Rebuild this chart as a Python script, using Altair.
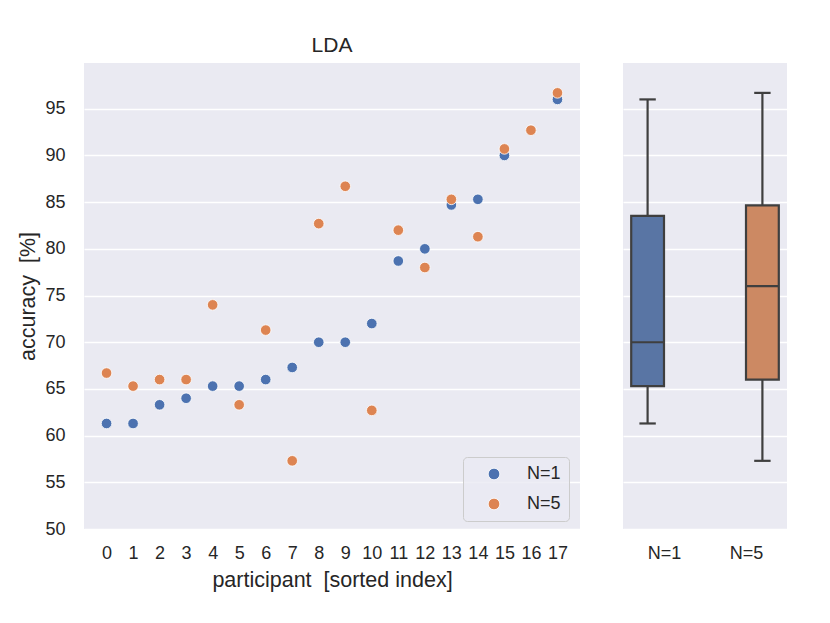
import json
import altair as alt
import pandas as pd

# ---- data ----
participants = list(range(18))
acc_n1 = [61.3, 61.3, 63.3, 64.0, 65.3, 65.3, 66.0, 67.3, 70.0, 70.0,
          72.0, 78.7, 80.0, 84.7, 85.3, 90.0, 92.7, 96.0]
acc_n5 = [66.7, 65.3, 66.0, 66.0, 74.0, 63.3, 71.3, 57.3, 82.7, 86.7,
          62.7, 82.0, 78.0, 85.3, 81.3, 90.7, 92.7, 96.7]
groups = ["N=1", "N=5"]
y_ticks = [50, 55, 60, 65, 70, 75, 80, 85, 90, 95]

point_colors = ["#4c72b0", "#dd8452"]
box_colors = ["#5975a4", "#cc8963"]
edge = "#3f3f3f"
FONT = "Liberation Sans"
TXT = "#262626"

df = pd.DataFrame({
    "participant": participants + participants,
    "accuracy": acc_n1 + acc_n5,
    "N": [groups[0]] * len(acc_n1) + [groups[1]] * len(acc_n5),
})

y_scale = alt.Scale(domain=[50, 99.9], nice=False, zero=False)

# ---- left panel: scatter ----
scatter = alt.Chart(df).mark_circle(
    size=112, opacity=1, stroke="white", strokeWidth=0.8
).encode(
    x=alt.X("participant:Q",
            scale=alt.Scale(domain=[-0.85, 17.85], nice=False, zero=False),
            axis=alt.Axis(values=participants, format="d", grid=False,
                          labelFlush=False,
                          title="participant\u00a0 [sorted index]")),
    y=alt.Y("accuracy:Q", scale=y_scale,
            axis=alt.Axis(values=y_ticks, title="accuracy\u00a0 [%]",
                          labelFlush=False)),
    color=alt.Color("N:N",
                    scale=alt.Scale(domain=groups, range=point_colors),
                    legend=alt.Legend(
                        title=None, orient="none", legendX=379, legendY=394,
                        symbolType="circle", symbolSize=135,
                        symbolStrokeColor="white", symbolStrokeWidth=0.8,
                        symbolOpacity=1, labelFontSize=18, labelFont=FONT,
                        labelColor=TXT, padding=8, rowPadding=12,
                        symbolOffset=14, labelOffset=24,
                        fillColor="rgba(234,234,242,0.8)",
                        strokeColor="#cccccc", cornerRadius=4)),
).properties(width=496, height=466, title=alt.Title("LDA"))

# ---- right panel: box plot (seaborn-style dodge) ----
idx_expr = f"indexof({json.dumps(groups)}, datum.N)"
box_base = alt.Chart(df).transform_aggregate(
    q1="q1(accuracy)", q3="q3(accuracy)", med="median(accuracy)",
    lo="min(accuracy)", hi="max(accuracy)", groupby=["N"],
).transform_calculate(
    idx=idx_expr,
).transform_calculate(
    pos="datum.idx * 1.4 - 0.2",
).transform_calculate(
    left="datum.pos - 0.2", right="datum.pos + 0.2",
    capL="datum.pos - 0.1", capR="datum.pos + 0.1",
)

label_expr = " : ".join(
    [f"datum.value == {i} ? '{g}'" for i, g in enumerate(groups)]) + " : ''"
bx_scale = alt.Scale(domain=[-0.5, 1.5], nice=False, zero=False)
bx_axis = alt.Axis(values=list(range(len(groups))), labelExpr=label_expr,
                   title=None, grid=False)
by_axis = alt.Axis(values=y_ticks, labels=False, title=None)

whisk_lo = box_base.mark_rule(color=edge, strokeWidth=2.2).encode(
    x=alt.X("pos:Q", scale=bx_scale, axis=bx_axis),
    y=alt.Y("lo:Q", scale=y_scale, axis=by_axis), y2="q1:Q")
whisk_hi = box_base.mark_rule(color=edge, strokeWidth=2.2).encode(
    x="pos:Q", y="q3:Q", y2="hi:Q")
cap_lo = box_base.mark_rule(color=edge, strokeWidth=2.2).encode(
    x="capL:Q", x2="capR:Q", y="lo:Q")
cap_hi = box_base.mark_rule(color=edge, strokeWidth=2.2).encode(
    x="capL:Q", x2="capR:Q", y="hi:Q")
box = box_base.mark_rect(stroke=edge, strokeWidth=2.2, opacity=1).encode(
    x="left:Q", x2="right:Q", y="q1:Q", y2="q3:Q",
    color=alt.Color("N:N", scale=alt.Scale(domain=groups, range=box_colors),
                    legend=None))
median = box_base.mark_rule(color=edge, strokeWidth=2.2).encode(
    x="left:Q", x2="right:Q", y="med:Q")

boxes = alt.layer(whisk_lo, whisk_hi, cap_lo, cap_hi, box, median).properties(
    width=164, height=466)

chart = alt.hconcat(scatter, boxes, spacing=43).resolve_scale(
    color="independent"
).resolve_legend(
    color="independent"
).configure_view(
    fill="#eaeaf2", stroke=None
).configure_axis(
    grid=True, gridColor="white", gridWidth=1.5, domain=False, ticks=False,
    labelFont=FONT, labelFontSize=18, labelColor=TXT,
    titleFont=FONT, titleFontSize=21.5, titleFontWeight="normal", titleColor=TXT,
).configure_axisY(
    labelPadding=19, titlePadding=5
).configure_axisX(
    labelPadding=15, titlePadding=7
).configure_title(
    font=FONT, fontSize=21, fontWeight="normal", color=TXT,
    anchor="middle", offset=7
).properties(
    padding={"left": 9, "top": 27, "right": 5, "bottom": 5}
)

chart.save("out.html", embed_options={"renderer": "svg", "actions": False})
